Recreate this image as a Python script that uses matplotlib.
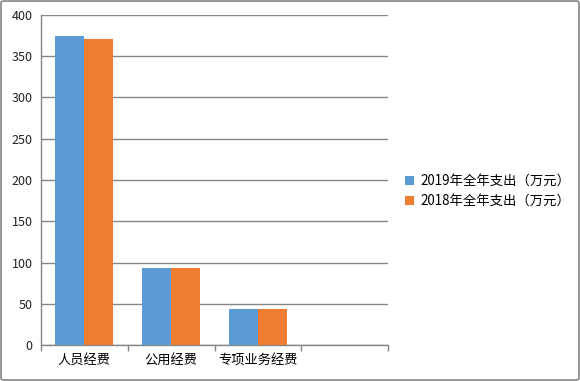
import matplotlib
matplotlib.use("Agg")
import matplotlib.pyplot as plt
import numpy as np
from matplotlib.patches import FancyBboxPatch

plt.rcParams['font.family'] = ['Noto Sans CJK SC', 'DejaVu Sans']

categories = ['人员经费', '公用经费', '专项业务经费', '']
series_names = ['2019年全年支出（万元）', '2018年全年支出（万元）']
values_2019 = [374.5, 93.5, 43.8, np.nan]
values_2018 = [371.0, 93.5, 43.8, np.nan]
yticks = [0, 50, 100, 150, 200, 250, 300, 350, 400]

colors = ['#5B9BD5', '#ED7D31']
W, H = 580, 381
fig = plt.figure(figsize=(W/100, H/100), dpi=100)
fig.patches.append(FancyBboxPatch((1/W, 1/H), 1-2/W, 1-2/H, boxstyle='round,pad=0,rounding_size=0.005',
                                  transform=fig.transFigure, fill=False, edgecolor='#868686', lw=1.2))
ax = fig.add_axes([41/W, 1-345/H, (388-41)/W, (345-15)/H])

x = np.arange(len(categories))
bw = 0.334
ax.bar(x - bw/2, values_2019, bw, color=colors[0], label=series_names[0], zorder=3)
ax.bar(x + bw/2, values_2018, bw, color=colors[1], label=series_names[1], zorder=3)

ax.set_xlim(-0.5, len(categories) - 0.5)
ax.set_ylim(0, 400)
ax.set_yticks(yticks)
ax.yaxis.grid(True, color='#868686', lw=1, zorder=0)
ax.set_axisbelow(True)
for s in ['top', 'right']:
    ax.spines[s].set_visible(False)
for s in ['left', 'bottom']:
    ax.spines[s].set_color('#868686')
    ax.spines[s].set_linewidth(1)
ax.tick_params(axis='y', length=0, labelsize=9, pad=6, labelcolor='#222222')
ax.set_xticks(x)
ax.set_xticklabels(categories, fontsize=9.5)
ax.tick_params(axis='x', length=0, pad=6)
ax.set_xticks(np.arange(-0.5, len(categories)), minor=True)
ax.tick_params(axis='x', which='minor', length=4, color='#868686', width=1)

ax.legend(loc='center left', bbox_to_anchor=(393/W, 1-191/H), bbox_transform=fig.transFigure,
          frameon=False, fontsize=9.6, handlelength=0.65, handleheight=0.65, handletextpad=0.5, labelspacing=0.45)

fig.savefig('out.png', dpi=100)
